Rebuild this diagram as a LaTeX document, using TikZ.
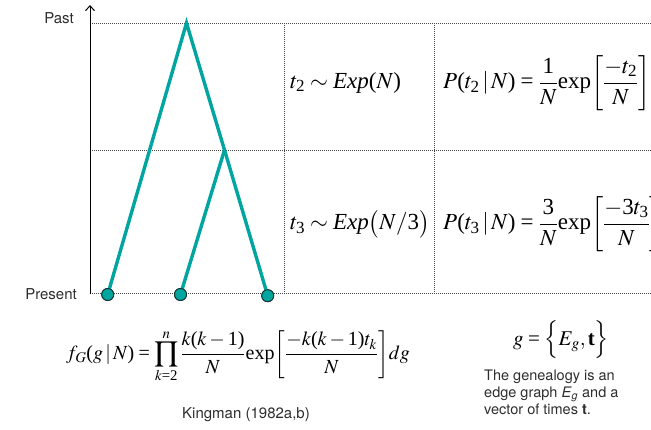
\documentclass[tikz,border=0pt]{standalone}
\usepackage{amsmath}
\usepackage{mathptmx}
\usepackage[no-math]{fontspec}
\setmainfont{TeX Gyre Heros}
\newfontfamily\tnrfam{Liberation Serif}[NFSSFamily=libserif]
\DeclareSymbolFont{operators}{TU}{libserif}{m}{n}
\SetSymbolFont{operators}{bold}{TU}{libserif}{b}{n}
\DeclareMathAlphabet{\mathit}{TU}{libserif}{m}{it}
\DeclareMathAlphabet{\mathbf}{TU}{libserif}{b}{n}
\usetikzlibrary{arrows.meta}
\definecolor{teal1}{RGB}{0,165,160}
\definecolor{leafedge}{RGB}{20,50,50}
\definecolor{txtgray}{RGB}{45,45,45}
\definecolor{dotgray}{RGB}{70,70,70}
\tikzset{
  branch/.style={draw=teal1, line width=3.4pt},
  leaf/.style={circle, fill=teal1, draw=leafedge, line width=0.9pt, minimum size=12pt, inner sep=0pt},
  grid/.style={draw=dotgray, line width=0.7pt, dash pattern=on 0.8pt off 1.2pt},
  axisline/.style={draw=black, line width=1pt, -{Straight Barb[length=5pt,width=9pt]}},
  lbl/.style={text=txtgray, font=\fontsize{15}{17}\selectfont, inner sep=0pt},
  mathtxt/.style={inner sep=0pt, font=\fontsize{23}{27}\selectfont},
}
\begin{document}
\begin{tikzpicture}[x=1pt,y=-1pt]
\useasboundingbox (0,0) rectangle (651,430);
\clip (0,0) rectangle (651,430);
% grid coordinates
\coordinate (top0) at (90,23);
\coordinate (top1) at (651,23);
\coordinate (mid0) at (90,150);
\coordinate (mid1) at (651,150);
\coordinate (bot0) at (90,293);
\coordinate (bot1) at (651,293);
\coordinate (v1t) at (284,23);
\coordinate (v1b) at (284,293);
\coordinate (v2t) at (434,23);
\coordinate (v2b) at (434,293);
\draw[grid] (top0) -- (top1);
\draw[grid] (mid0) -- (mid1);
\draw[grid] (bot0) -- (bot1);
\draw[grid] (v1t) -- (v1b);
\draw[grid] (v2t) -- (v2b);
% axis
\coordinate (ax0) at (90,294);
\coordinate (ax1) at (90,5);
\draw[axisline] (ax0) -- (ax1);
\node[lbl, anchor=east] (past) at (74,18) {Past};
\node[lbl, anchor=east] (present) at (77,294) {Present};
% tree
\coordinate (apex) at (186.5,23);
\coordinate (junc) at (224.5,150);
\node[leaf] (l1) at (107.7,294.5) {};
\node[leaf] (l2) at (180.5,294.5) {};
\node[leaf] (l3) at (267.7,295.7) {};
\draw[branch] (l1.center) -- (apex) -- (junc) -- (l3.center);
\draw[branch] (l2.center) -- (junc);
\node[leaf] at (l1) {};
\node[leaf] at (l2) {};
\node[leaf] at (l3) {};
% row formulas
\node[mathtxt, anchor=west] (e2) at (290,83) {$t_2 \sim \mathit{Exp}(N)$};
\node[mathtxt, anchor=west] (p2) at (443,83) {$P(t_2\,|\,N) = \dfrac{1}{N}\mathrm{exp}\!\left[\dfrac{-t_2}{N}\right]$};
\node[mathtxt, anchor=west] (e3) at (290,224) {$t_3 \sim \mathit{Exp}\bigl(N/3\bigr)$};
\node[mathtxt, anchor=west] (p3) at (443,224) {$P(t_3\,|\,N) = \dfrac{3}{N}\mathrm{exp}\!\left[\dfrac{-3t_3}{N}\right]$};
% bottom
\node[mathtxt, anchor=west, font=\fontsize{20}{24}\selectfont] (fg) at (66,356) {$\displaystyle f_G(g\,|\,N) = \prod_{k=2}^{n}\frac{k(k-1)}{N}\mathrm{exp}\!\left[\frac{-k(k-1)t_k}{N}\right]\!dg$};
\node[lbl] (king) at (246,415) {Kingman (1982a,b)};
\node[mathtxt, font=\fontsize{21}{24}\selectfont] (gdef) at (561,340) {$g = \Bigl\{E_g, \mathbf{t}\Bigr\}$};
\node[lbl, anchor=north west, align=left, font=\fontsize{14.5}{17}\selectfont] (desc) at (484,370) {The genealogy is an\\edge graph \textit{E}\textsubscript{\textit{g}} and a\\vector of times \textbf{t}.};
\end{tikzpicture}
\end{document}
